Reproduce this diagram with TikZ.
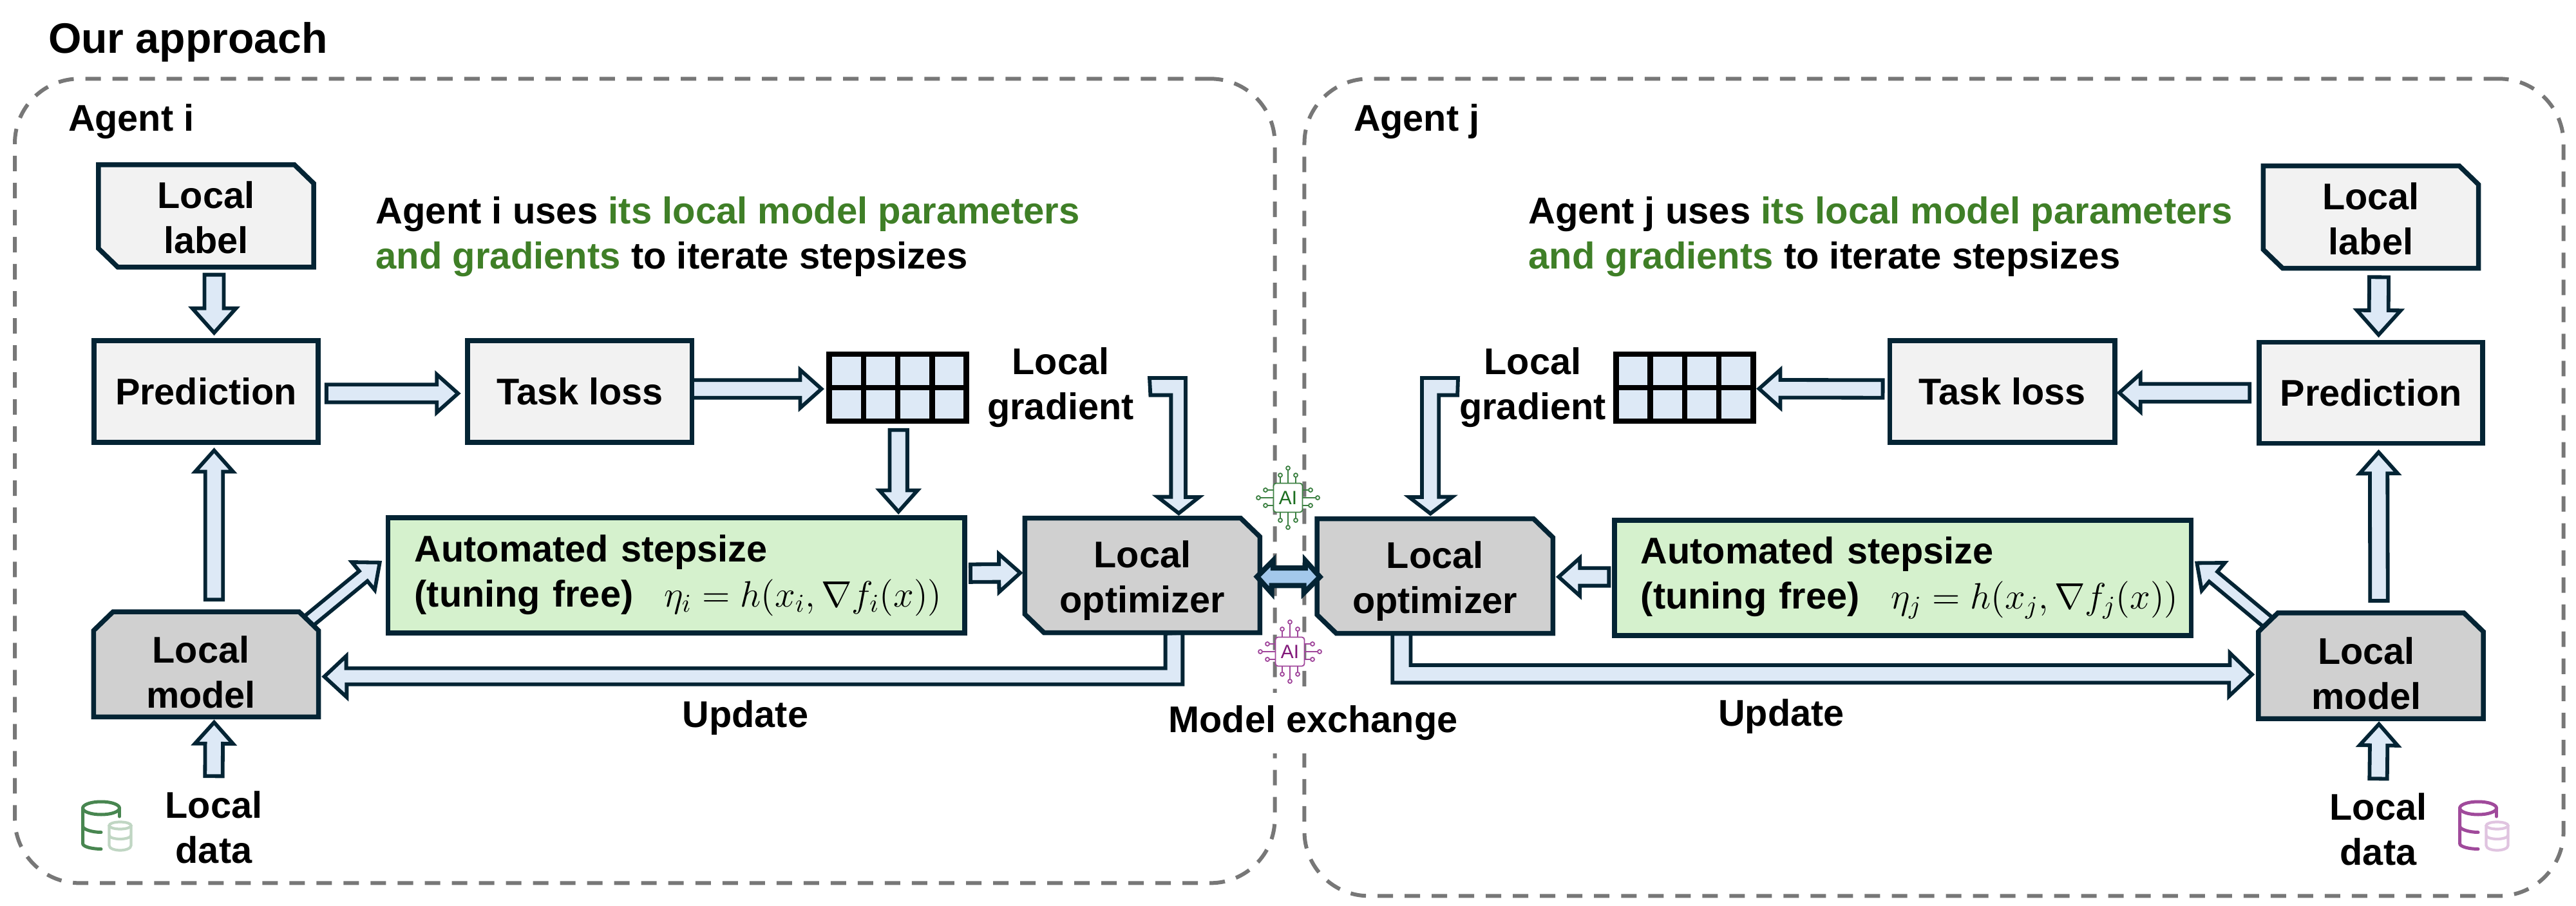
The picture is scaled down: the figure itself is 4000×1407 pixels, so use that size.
\documentclass[tikz,border=0pt]{standalone}
\usepackage{fix-cm}
\usepackage{fontspec}
\setmainfont{Liberation Sans}
\usetikzlibrary{positioning,calc,backgrounds}
\pgfdeclarelayer{boxes}
\pgfsetlayers{background,boxes,main}
\definecolor{frame}{RGB}{4,36,52}
\definecolor{flow}{RGB}{221,233,246}
\definecolor{exchange}{RGB}{163,200,235}
\definecolor{lightbox}{RGB}{242,242,242}
\definecolor{darkbox}{RGB}{208,208,208}
\definecolor{stepbox}{RGB}{213,241,205}
\definecolor{panelgray}{RGB}{119,119,119}
\definecolor{keygreen}{RGB}{63,127,39}
\definecolor{chipgreen}{RGB}{60,128,66}
\definecolor{chipgreentxt}{RGB}{27,110,31}
\definecolor{chipmag}{RGB}{160,70,155}
\definecolor{chipmagtxt}{RGB}{130,24,122}
\definecolor{dbgreen}{RGB}{72,134,80}
\definecolor{dbgreenlt}{RGB}{192,214,195}
\definecolor{dbmag}{RGB}{160,74,155}
\definecolor{dbmaglt}{RGB}{224,196,224}
\newcommand{\boxfont}{\fontsize{16.4}{19.9}\selectfont\bfseries}
\newcommand{\stepeq}[1]{\rlap{\fontsize{16.2}{20}\selectfont$#1$}}
\tikzset{
    pics/aichip/.style n args={2}{code={
        \foreach \a in {0,90,180,270} {
            \begin{scope}[rotate=\a, draw=#1, line width=0.018cm]
                \draw (22,0) -- (43,0);
                \draw (43,0) ++(3,0) circle (3);
                \draw (22,-12) -- (32,-12);
                \draw (32,-12) ++(3,0) circle (3);
                \draw (22,12) -- (32,12);
                \draw (32,12) ++(3,0) circle (3);
            \end{scope}
        }
        \draw[#1, line width=0.018cm, fill=white, rounded corners=0.04cm] (-22.5,-22.5) rectangle (22.5,22.5);
        \node[text=#2, inner sep=0, font=\fontsize{8.5}{10}\selectfont] (-txt) at (0,0) {AI};
    }},
    pics/dbicon/.style n args={2}{code={
        \begin{scope}[line width=0.05cm, line cap=round, draw=#1]
            \draw (32,12) ellipse (28.5 and 10);
            \draw (60.5,12) -- (60.5,25);
            \draw (3.5,12) -- (3.5,67) .. controls (3.5,72) and (18,75.5) .. (32,75.5);
            \draw (3.5,40) .. controls (3.5,45) and (18,49.5) .. (32,49.5);
        \end{scope}
        \begin{scope}[line width=0.042cm, draw=#2]
            \draw (61.5,39) ellipse (17 and 5.5);
            \draw (44.5,39) -- (44.5,70) .. controls (44.5,75) and (54,77.5) .. (61.5,77.5) .. controls (69,77.5) and (78.5,75) .. (78.5,70) -- (78.5,39);
            \draw (44.5,54) .. controls (44.5,58) and (54,60) .. (61.5,60) .. controls (69,60) and (78.5,58) .. (78.5,54);
        \end{scope}
    }}
}
\begin{document}
\begin{tikzpicture}[
    x=0.01cm, y=-0.01cm,
    node distance=1cm,
    txt/.style={inner sep=0, outer sep=0, align=center, font=\boxfont},
    flowbox/.style={rectangle, draw=frame, line width=0.075cm, outer sep=0, inner sep=0, align=center, font=\boxfont, minimum height=1.58cm, minimum width=3.48cm, fill=lightbox},
    chambox/.style={flowbox, draw=none, fill=none},
    labelbox/.style={chambox, minimum width=3.34cm, minimum height=1.59cm},
    optbox/.style={chambox, minimum width=3.65cm, minimum height=1.78cm},
    modelbox/.style={chambox, minimum width=3.49cm, minimum height=1.63cm},
    chamline/.style={draw=frame, line width=0.075cm, miter limit=10},
    autobox/.style={flowbox, fill=stepbox, align=left, minimum width=8.95cm, minimum height=1.79cm, text width=8.13cm, inner xsep=0.41cm},
    gradbox/.style={rectangle, draw=black, line width=0.085cm, fill=flow, outer sep=0, minimum width=2.13cm, minimum height=1.04cm},
    gridline/.style={draw=black, line width=0.085cm},
    panel/.style={rectangle, rounded corners=1cm, draw=panelgray, line width=0.06cm, dash pattern=on 0.24cm off 0.18cm, outer sep=0},
    notetxt/.style={txt, anchor=west, align=left, font=\fontsize{16.5}{19.9}\selectfont\bfseries},
    blockarr/.style n args={3}{draw=frame, fill=flow, line width=0.058cm, miter limit=10, to path={
        let \p1=(\tikztostart), \p2=(\tikztotarget), \p3=($(\p2)!#3!(\p1)$) in
        ($(\p1)!#1!90:(\p2)$) -- ($(\p3)!#1!90:(\p2)$) -- ($(\p3)!#2!90:(\p2)$) -- (\p2)
        -- ($(\p3)!#2!-90:(\p2)$) -- ($(\p3)!#1!-90:(\p2)$) -- ($(\p1)!#1!-90:(\p2)$) -- cycle}},
    flowarr/.style={blockarr={0.137cm}{0.295cm}{0.33cm}},
    longarr/.style={blockarr={0.15cm}{0.34cm}{0.38cm}},
    diagarr/.style={blockarr={0.10cm}{0.28cm}{0.33cm}},
    bentarr/.style={draw=frame, fill=flow, line width=0.058cm, miter limit=10},
    swaparr/.style={draw=frame, fill=exchange, line width=0.08cm, miter limit=10}
]
\useasboundingbox (0,0) rectangle (4000,1407);

\node[flowbox] (predi) at (320,608) {Prediction};
\node[labelbox, above=1.14cm of predi] (labeli) {\rule{0pt}{0.47cm}Local\\label};
\node[flowbox, right=2.32cm of predi] (taski) {Task loss};
\node[gradbox, right=2.13cm of taski, yshift=0.06cm] (gradi) {};
\node[modelbox, below=2.63cm of predi] (modeli) {\rule{0pt}{0.66cm}Local\hspace*{0.16cm}\\model\hspace*{0.16cm}};
\node[autobox, right=1.08cm of modeli, yshift=1.38cm] (autoi) {Automated stepsize\\(tuning free)\hspace{0.48cm}\stepeq{\eta_i = h(x_i,\nabla f_i(x))}};
\node[optbox, right=0.93cm of autoi] (opti) {\rule{0pt}{0.58cm}Local\\optimizer};

\node[flowbox, minimum width=3.47cm, minimum height=1.565cm] (predj) at (3681.5,610) {Prediction};
\node[labelbox, above=1.15cm of predj] (labelj) {\rule{0pt}{0.47cm}Local\\label};
\node[flowbox, left=2.24cm of predj, yshift=0.02cm, minimum width=3.49cm, minimum height=1.575cm] (taskj) {Task loss};
\node[gradbox, left=2.12cm of taskj, yshift=0.06cm] (gradj) {};
\node[modelbox, below=2.635cm of predj, minimum height=1.64cm] (modelj) {\rule{0pt}{0.66cm}Local\hspace*{0.14cm}\\model\hspace*{0.14cm}};
\node[autobox, left=1.045cm of modelj, yshift=1.3625cm] (autoj) {Automated stepsize\\(tuning free)\hspace{0.49cm}\stepeq{\eta_j = h(x_j,\nabla f_j(x))}};
\node[optbox, left=0.955cm of autoj, yshift=0.03cm, minimum width=3.66cm] (optj) {\rule{0pt}{0.58cm}Local\\optimizer};

\begin{pgfonlayer}{boxes}
    \foreach \n in {labeli,labelj}
        \draw[chamline, fill=lightbox] (\n.north west) -- ([xshift=-0.3cm]\n.north east) -- ([yshift=-0.29cm]\n.north east) -- (\n.south east) -- ([xshift=0.3cm]\n.south west) -- ([yshift=0.29cm]\n.south west) -- cycle;
    \foreach \n in {opti,optj}
        \draw[chamline, fill=darkbox] (\n.north west) -- ([xshift=-0.3cm]\n.north east) -- ([yshift=-0.29cm]\n.north east) -- (\n.south east) -- ([xshift=0.3cm]\n.south west) -- ([yshift=0.29cm]\n.south west) -- cycle;
    \foreach \n in {modeli,modelj}
        \draw[chamline, fill=darkbox] ([xshift=0.3cm]\n.north west) -- ([xshift=-0.3cm]\n.north east) -- ([yshift=-0.29cm]\n.north east) -- (\n.south east) -- (\n.south west) -- ([yshift=-0.29cm]\n.north west) -- cycle;
\end{pgfonlayer}

\foreach \t in {0.25,0.5,0.75} {
    \draw[gridline] ($(gradi.north west)!\t!(gradi.north east)$) -- ($(gradi.south west)!\t!(gradi.south east)$);
    \draw[gridline] ($(gradj.north west)!\t!(gradj.north east)$) -- ($(gradj.south west)!\t!(gradj.south east)$);
}
\draw[gridline] (gradi.west) -- (gradi.east);
\draw[gridline] (gradj.west) -- (gradj.east);

\node[txt, anchor=base west, font=\fontsize{18.8}{22}\selectfont\bfseries] (title) at (75,83) {Our approach};
\node[txt, anchor=base west] (agenti) at (106,204) {Agent i};
\node[txt, anchor=base west] (agentj) at (2102,204) {Agent j};
\node[notetxt] (notei) at (583.5,368) {Agent i uses \textcolor{keygreen}{its local model parameters}\\\textcolor{keygreen}{and gradients} to iterate stepsizes};
\node[notetxt] (notej) at (2373.5,368) {Agent j uses \textcolor{keygreen}{its local model parameters}\\\textcolor{keygreen}{and gradients} to iterate stepsizes};
\node[txt] (gradtxti) at (1647,602) {Local\\gradient};
\node[txt] (gradtxtj) at (2380,602) {Local\\gradient};
\node[txt] (datai) at (332,1284.5) {Local\\data};
\node[txt] (dataj) at (3693,1287.5) {Local\\data};
\node[txt, anchor=base] (updatei) at (1157.5,1129) {Update};
\node[txt, anchor=base] (updatej) at (2766,1127) {Update};
\node[txt, anchor=base, fill=white, inner ysep=0.2cm] (exchangetxt) at (2039,1137.5) {Model exchange};

\coordinate (gradstarti) at (1785,587);
\coordinate (gradstartj) at (2264,587);

\begin{scope}[on background layer]
    \node[panel, minimum width=19.554cm, minimum height=12.483cm] (paneli) at (1001.3,746.85) {};
    \node[panel, minimum width=19.54cm, minimum height=12.683cm] (panelj) at (3003,756.85) {};

    \draw[longarr] ([shift={(12.5,11.75)}]labeli.south) to ([shift={(12.5,-12.2)}]predi.north);
    \draw[flowarr] ([shift={(12.5,-19)}]modeli.north) to ([shift={(12.5,12.5)}]predi.south);
    \draw[flowarr] ([shift={(0,-23)}]datai.north) to ([shift={(12.5,8.5)}]modeli.south);
    \draw[flowarr] ([shift={(12.75,3)}]predi.east) to ([shift={(-15,3)}]taski.west);
    \draw[flowarr] ([shift={(0,-4)}]taski.east) to ([shift={(-12,2)}]gradi.west);
    \draw[flowarr] ([shift={(1,13.75)}]gradi.south) to ([shift={(1,-9.5)}]gradi.south |- autoi.north);
    \draw[flowarr] ([shift={(8.75,-3.5)}]autoi.east) to ([shift={(-7,-4)}]opti.west);
    \draw[diagarr] ([shift={(153.5,-62.5)}]modeli.center) to ([shift={(-13,-20)}]autoi.west);

    \draw[longarr] ([shift={(12.5,13.75)}]labelj.south) to ([shift={(12,-11.7)}]predj.north);
    \draw[flowarr] ([shift={(12.5,-19)}]modelj.north) to ([shift={(12,14)}]predj.south);
    \draw[flowarr] ([shift={(0,-22)}]dataj.north) to ([shift={(12.5,8.5)}]modelj.south);
    \draw[flowarr] ([shift={(-14.75,0)}]predj.west) to ([shift={(7,2)}]taskj.east);
    \draw[flowarr] ([shift={(-11,-4)}]taskj.west) to ([shift={(9,1.7)}]gradj.east);
    \draw[flowarr] ([shift={(-8.5,-1.75)}]autoj.west) to ([shift={(9,1.25)}]optj.east);
    \draw[diagarr] ([shift={(-154.75,-63.5)}]modelj.center) to ([shift={(9,-23.25)}]autoj.east);

    \draw[bentarr] ([shift={(62.5,0)}]opti.south) -- ++(0,80) -- ++(-1298,0) -- ++(0,20) -- ([shift={(9,19)}]modeli.east) -- ++(34,-32) -- ++(0,19) -- ++(1272,0) -- ++(0,-54) -- cycle;
    \draw[bentarr] ([shift={(-66,0)}]optj.south) -- ++(0,76.5) -- ++(1299,0) -- ++(0,21) -- ([shift={(-10,13.5)}]modelj.west) -- ++(-34.5,-33.5) -- ++(0,19) -- ++(-1272,0) -- ++(0,-49.5) -- cycle;
    \draw[bentarr] (gradstarti) -- ++(56,0) -- ++(0,185) -- ++(21,0) -- ([shift={(56.5,-7.5)}]opti.north) -- ++(-33,-25.5) -- ++(21,0) -- ++(0,-158) -- ++(-32,0) -- cycle;
    \draw[bentarr] (gradstartj) -- ++(-56,0) -- ++(0,185) -- ++(-20,0) -- ([shift={(-7,-8)}]optj.north) -- ++(34,-26) -- ++(-21,0) -- ++(0,-158) -- ++(29,0) -- cycle;
\end{scope}

\draw[swaparr] ([shift={(-4.5,2)}]opti.east) -- ++(25,-25) -- ++(0,11.5) -- ++(50,0) -- ++(0,-11.5) -- ([shift={(4.5,1.25)}]optj.west) -- ++(-25,25) -- ++(0,-11.5) -- ++(-50,0) -- ++(0,11.5) -- cycle;

\pic (chipi) at (2000,773) {aichip={chipgreen}{chipgreentxt}};
\pic (chipj) at (2003,1012) {aichip={chipmag}{chipmagtxt}};
\pic (dbi) at (125,1243) {dbicon={dbgreen}{dbgreenlt}};
\pic (dbj) at (3816,1243) {dbicon={dbmag}{dbmaglt}};
\end{tikzpicture}
\end{document}
